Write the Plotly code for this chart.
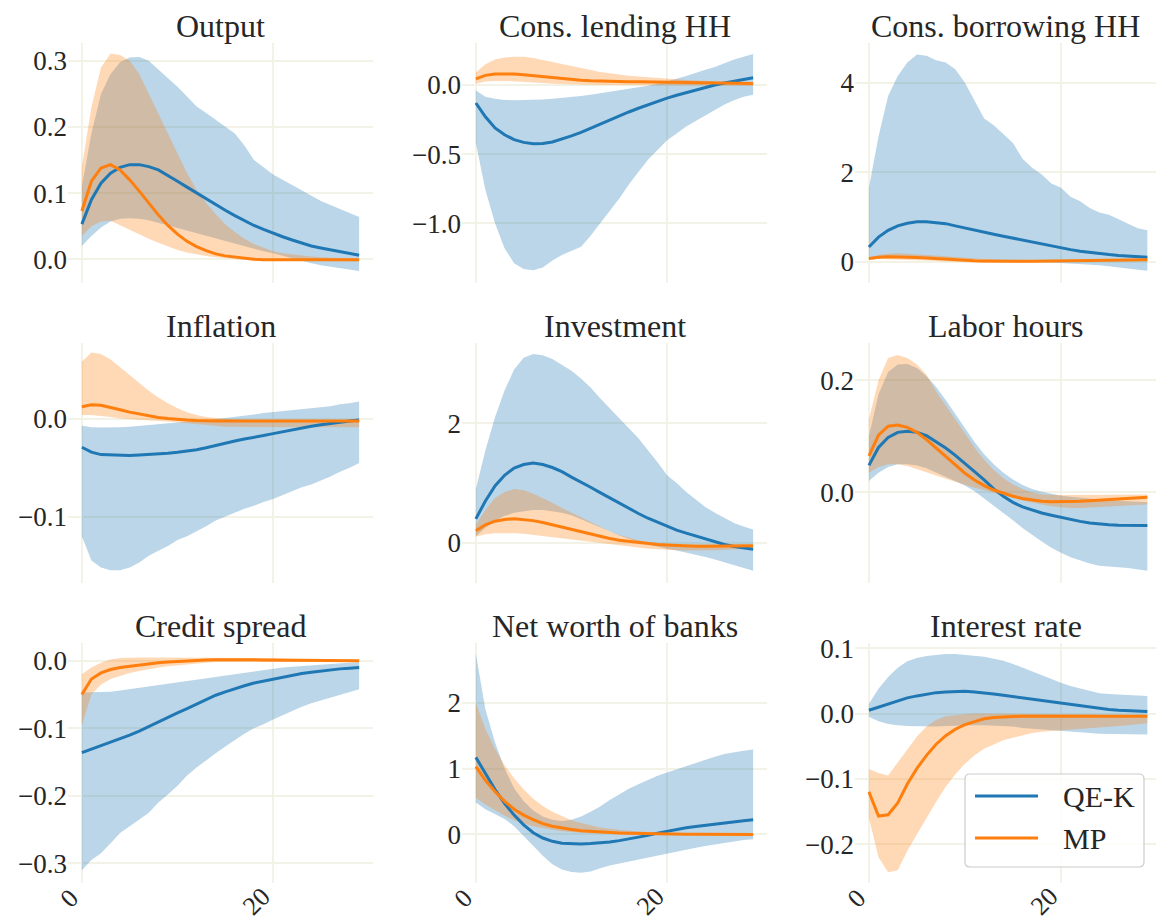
import plotly.graph_objects as go

t = list(range(30))

# ---------------- Output ----------------
output_qek = [0.053, 0.09, 0.115, 0.13, 0.139, 0.143, 0.143, 0.140, 0.135, 0.127, 0.118, 0.109, 0.100, 0.091, 0.082, 0.074, 0.066, 0.058, 0.051, 0.045, 0.039, 0.034, 0.029, 0.024, 0.020, 0.017, 0.014, 0.011, 0.008, 0.006]
output_qek_hi = [0.11, 0.19, 0.25, 0.28, 0.298, 0.305, 0.306, 0.300, 0.287, 0.274, 0.261, 0.246, 0.231, 0.221, 0.211, 0.200, 0.190, 0.172, 0.150, 0.139, 0.128, 0.120, 0.112, 0.103, 0.095, 0.088, 0.082, 0.076, 0.070, 0.064]
output_qek_lo = [0.02, 0.035, 0.048, 0.057, 0.061, 0.062, 0.061, 0.059, 0.056, 0.052, 0.048, 0.044, 0.040, 0.036, 0.032, 0.028, 0.024, 0.020, 0.016, 0.012, 0.009, 0.005, 0.002, -0.002, -0.006, -0.009, -0.012, -0.014, -0.016, -0.018]
output_mp = [0.073, 0.118, 0.138, 0.143, 0.135, 0.120, 0.103, 0.085, 0.067, 0.051, 0.038, 0.027, 0.019, 0.013, 0.008, 0.005, 0.003, 0.001, 0.0, -0.001, -0.001, -0.001, -0.001, -0.001, -0.001, -0.001, -0.001, -0.001, -0.001, -0.001]
output_mp_hi = [0.14, 0.23, 0.29, 0.311, 0.309, 0.30, 0.28, 0.25, 0.22, 0.19, 0.16, 0.13, 0.105, 0.085, 0.068, 0.053, 0.041, 0.031, 0.023, 0.017, 0.012, 0.009, 0.007, 0.005, 0.004, 0.003, 0.002, 0.002, 0.001, 0.001]
output_mp_lo = [0.035, 0.05, 0.057, 0.058, 0.052, 0.045, 0.038, 0.031, 0.025, 0.019, 0.014, 0.010, 0.007, 0.005, 0.003, 0.001, 0.0, -0.001, -0.002, -0.002, -0.003, -0.003, -0.003, -0.003, -0.003, -0.003, -0.003, -0.003, -0.003, -0.003]

# ---------------- Cons. lending HH ----------------
lend_qek = [-0.13, -0.23, -0.31, -0.36, -0.395, -0.415, -0.424, -0.423, -0.412, -0.392, -0.368, -0.342, -0.312, -0.282, -0.252, -0.222, -0.195, -0.168, -0.143, -0.118, -0.095, -0.074, -0.055, -0.037, -0.015, 0.0, 0.014, 0.027, 0.04, 0.052]
lend_qek_hi = [-0.04, -0.085, -0.1, -0.108, -0.11, -0.11, -0.108, -0.105, -0.1, -0.094, -0.087, -0.079, -0.07, -0.06, -0.05, -0.04, -0.03, -0.018, -0.005, 0.01, 0.025, 0.045, 0.065, 0.09, 0.11, 0.13, 0.16, 0.185, 0.205, 0.225]
lend_qek_lo = [-0.42, -0.76, -1.0, -1.18, -1.29, -1.33, -1.34, -1.32, -1.27, -1.23, -1.2, -1.17, -1.09, -1.0, -0.91, -0.82, -0.72, -0.63, -0.54, -0.47, -0.4, -0.35, -0.3, -0.26, -0.22, -0.18, -0.14, -0.11, -0.085, -0.07]
lend_mp = [0.045, 0.07, 0.08, 0.082, 0.08, 0.075, 0.068, 0.06, 0.053, 0.046, 0.04, 0.035, 0.031, 0.028, 0.026, 0.025, 0.024, 0.023, 0.022, 0.021, 0.02, 0.019, 0.018, 0.017, 0.016, 0.015, 0.014, 0.013, 0.012, 0.011]
lend_mp_hi = [0.09, 0.15, 0.185, 0.2, 0.205, 0.205, 0.195, 0.18, 0.165, 0.15, 0.135, 0.12, 0.105, 0.095, 0.085, 0.075, 0.068, 0.062, 0.056, 0.05, 0.045, 0.04, 0.036, 0.032, 0.028, 0.025, 0.022, 0.02, 0.018, 0.016]
lend_mp_lo = [0.01, 0.025, 0.03, 0.03, 0.028, 0.025, 0.02, 0.015, 0.01, 0.007, 0.005, 0.003, 0.002, 0.001, 0.0, 0.0, -0.001, -0.001, -0.002, -0.002, -0.002, -0.003, -0.003, -0.003, -0.004, -0.004, -0.004, -0.005, -0.005, -0.005]

# ---------------- Cons. borrowing HH ----------------
borrow_qek = [0.33, 0.55, 0.7, 0.8, 0.86, 0.89, 0.895, 0.88, 0.85, 0.8, 0.75, 0.71, 0.66, 0.615, 0.57, 0.525, 0.48, 0.435, 0.39, 0.345, 0.305, 0.27, 0.235, 0.205, 0.18, 0.16, 0.14, 0.125, 0.11, 0.1]
borrow_qek_hi = [1.65, 2.8, 3.7, 4.15, 4.45, 4.63, 4.6, 4.5, 4.45, 4.3, 4.0, 3.6, 3.2, 3.05, 2.85, 2.65, 2.3, 2.1, 1.95, 1.75, 1.65, 1.45, 1.35, 1.2, 1.1, 1.05, 0.95, 0.85, 0.75, 0.7]
borrow_qek_lo = [0.05, 0.1, 0.12, 0.13, 0.13, 0.12, 0.11, 0.1, 0.09, 0.08, 0.07, 0.06, 0.05, 0.04, 0.03, 0.02, 0.01, 0.0, -0.01, -0.02, -0.03, -0.04, -0.05, -0.065, -0.08, -0.1, -0.12, -0.15, -0.18, -0.2]
borrow_mp = [0.07, 0.1, 0.11, 0.11, 0.105, 0.095, 0.08, 0.065, 0.05, 0.04, 0.03, 0.02, 0.015, 0.01, 0.008, 0.007, 0.008, 0.01, 0.012, 0.015, 0.018, 0.022, 0.026, 0.03, 0.034, 0.037, 0.04, 0.042, 0.043, 0.044]
borrow_mp_hi = [0.09, 0.15, 0.18, 0.19, 0.18, 0.165, 0.145, 0.125, 0.105, 0.09, 0.075, 0.06, 0.05, 0.042, 0.036, 0.032, 0.03, 0.03, 0.031, 0.033, 0.036, 0.04, 0.044, 0.048, 0.052, 0.056, 0.06, 0.063, 0.066, 0.068]
borrow_mp_lo = [0.05, 0.06, 0.06, 0.055, 0.045, 0.035, 0.025, 0.015, 0.005, -0.005, -0.012, -0.018, -0.022, -0.024, -0.025, -0.024, -0.022, -0.018, -0.014, -0.01, -0.005, 0.0, 0.005, 0.01, 0.014, 0.017, 0.02, 0.022, 0.024, 0.025]

# ---------------- Inflation ----------------
infl_qek = [-0.029, -0.034, -0.0365, -0.037, -0.0375, -0.0375, -0.037, -0.0365, -0.036, -0.035, -0.034, -0.033, -0.0315, -0.0295, -0.027, -0.025, -0.0225, -0.0205, -0.019, -0.017, -0.015, -0.013, -0.011, -0.009, -0.0075, -0.006, -0.0045, -0.003, -0.002, -0.001]
infl_qek_hi = [-0.007, -0.0085, -0.0088, -0.0088, -0.0085, -0.008, -0.0072, -0.0064, -0.0056, -0.0048, -0.004, -0.003, -0.002, -0.001, 0.0, 0.001, 0.002, 0.003, 0.0045, 0.006, 0.007, 0.008, 0.009, 0.010, 0.011, 0.012, 0.013, 0.015, 0.016, 0.018]
infl_qek_lo = [-0.12, -0.145, -0.152, -0.155, -0.155, -0.152, -0.147, -0.14, -0.135, -0.13, -0.124, -0.12, -0.115, -0.11, -0.104, -0.1, -0.096, -0.092, -0.089, -0.085, -0.082, -0.078, -0.074, -0.07, -0.067, -0.063, -0.059, -0.054, -0.05, -0.045]
infl_mp = [0.0125, 0.0145, 0.014, 0.012, 0.0095, 0.007, 0.005, 0.003, 0.0015, 0.0005, -0.0005, -0.001, -0.0015, -0.002, -0.002, -0.002, -0.002, -0.002, -0.002, -0.002, -0.002, -0.002, -0.002, -0.002, -0.002, -0.002, -0.002, -0.002, -0.002, -0.002]
infl_mp_hi = [0.0585, 0.068, 0.0665, 0.061, 0.053, 0.045, 0.037, 0.029, 0.022, 0.016, 0.011, 0.007, 0.004, 0.002, 0.001, 0.0, -0.0005, -0.0007, -0.0008, -0.0009, -0.001, -0.001, -0.001, -0.001, -0.001, -0.001, -0.001, -0.001, -0.001, -0.001]
infl_mp_lo = [0.004, 0.004, 0.003, 0.002, 0.0005, -0.0005, -0.001, -0.0015, -0.002, -0.0025, -0.003, -0.004, -0.005, -0.006, -0.007, -0.008, -0.008, -0.0085, -0.0085, -0.0085, -0.0085, -0.0085, -0.0085, -0.0085, -0.0085, -0.0085, -0.0085, -0.0085, -0.0085, -0.0085]

# ---------------- Investment ----------------
inv_qek = [0.4, 0.7, 0.95, 1.13, 1.25, 1.31, 1.335, 1.31, 1.26, 1.19, 1.1, 1.02, 0.93, 0.84, 0.75, 0.66, 0.57, 0.49, 0.41, 0.34, 0.27, 0.21, 0.16, 0.11, 0.06, 0.01, -0.03, -0.065, -0.09, -0.11]
inv_qek_hi = [0.9, 1.55, 2.1, 2.55, 2.9, 3.1, 3.16, 3.14, 3.08, 2.98, 2.88, 2.75, 2.6, 2.42, 2.25, 2.08, 1.92, 1.75, 1.55, 1.35, 1.13, 1.0, 0.85, 0.72, 0.6, 0.5, 0.41, 0.33, 0.27, 0.22]
inv_qek_lo = [0.11, 0.25, 0.37, 0.45, 0.5, 0.53, 0.55, 0.55, 0.53, 0.5, 0.46, 0.4, 0.33, 0.26, 0.19, 0.12, 0.06, 0.01, -0.03, -0.07, -0.1, -0.13, -0.17, -0.2, -0.24, -0.28, -0.32, -0.37, -0.42, -0.47]
inv_mp = [0.2, 0.3, 0.36, 0.39, 0.4, 0.39, 0.37, 0.34, 0.3, 0.26, 0.22, 0.18, 0.14, 0.1, 0.07, 0.04, 0.02, 0.0, -0.02, -0.03, -0.04, -0.05, -0.055, -0.06, -0.06, -0.06, -0.06, -0.06, -0.055, -0.05]
inv_mp_hi = [0.3, 0.55, 0.75, 0.85, 0.9, 0.88, 0.82, 0.75, 0.67, 0.58, 0.5, 0.42, 0.34, 0.26, 0.19, 0.13, 0.08, 0.04, 0.01, -0.01, -0.02, -0.03, -0.03, -0.03, -0.03, -0.03, -0.03, -0.03, -0.03, -0.03]
inv_mp_lo = [0.1, 0.14, 0.16, 0.165, 0.16, 0.15, 0.135, 0.12, 0.1, 0.08, 0.06, 0.04, 0.02, 0.0, -0.02, -0.04, -0.06, -0.08, -0.1, -0.11, -0.12, -0.125, -0.13, -0.13, -0.13, -0.125, -0.12, -0.115, -0.11, -0.1]

# ---------------- Labor hours ----------------
labor_qek = [0.048, 0.08, 0.098, 0.107, 0.109, 0.107, 0.101, 0.09, 0.079, 0.066, 0.052, 0.037, 0.022, 0.006, -0.007, -0.018, -0.026, -0.032, -0.037, -0.041, -0.045, -0.049, -0.052, -0.055, -0.057, -0.058, -0.059, -0.0595, -0.0595, -0.0595]
labor_qek_hi = [0.1, 0.175, 0.215, 0.228, 0.229, 0.222, 0.207, 0.188, 0.165, 0.14, 0.115, 0.09, 0.068, 0.05, 0.035, 0.023, 0.013, 0.006, 0.001, -0.003, -0.006, -0.008, -0.01, -0.012, -0.013, -0.014, -0.015, -0.016, -0.017, -0.018]
labor_qek_lo = [0.02, 0.035, 0.045, 0.05, 0.05, 0.048, 0.043, 0.036, 0.028, 0.02, 0.012, 0.002, -0.01, -0.023, -0.037, -0.05, -0.064, -0.076, -0.088, -0.099, -0.108, -0.116, -0.122, -0.127, -0.131, -0.133, -0.134, -0.135, -0.137, -0.14]
labor_mp = [0.065, 0.102, 0.118, 0.12, 0.116, 0.107, 0.094, 0.079, 0.063, 0.048, 0.034, 0.022, 0.012, 0.004, -0.002, -0.007, -0.011, -0.014, -0.016, -0.017, -0.017, -0.017, -0.016, -0.015, -0.014, -0.013, -0.012, -0.011, -0.01, -0.009]
labor_mp_hi = [0.13, 0.2, 0.24, 0.245, 0.24, 0.228, 0.21, 0.18, 0.155, 0.13, 0.105, 0.08, 0.058, 0.04, 0.025, 0.014, 0.006, 0.0, -0.004, -0.005, -0.005, -0.005, -0.005, -0.005, -0.005, -0.005, -0.005, -0.004, -0.004, -0.004]
labor_mp_lo = [0.035, 0.045, 0.05, 0.05, 0.047, 0.042, 0.036, 0.03, 0.024, 0.018, 0.013, 0.008, 0.004, 0.0, -0.005, -0.01, -0.015, -0.019, -0.022, -0.025, -0.027, -0.028, -0.028, -0.028, -0.027, -0.026, -0.025, -0.024, -0.023, -0.022]

# ---------------- Credit spread ----------------
spread_qek = [-0.136, -0.131, -0.126, -0.121, -0.116, -0.11, -0.104, -0.097, -0.09, -0.084, -0.077, -0.071, -0.064, -0.057, -0.051, -0.046, -0.041, -0.037, -0.033, -0.03, -0.027, -0.024, -0.021, -0.019, -0.017, -0.015, -0.013, -0.012, -0.011, -0.01]
spread_qek_hi = [-0.047, -0.047, -0.047, -0.046, -0.044, -0.042, -0.04, -0.037, -0.035, -0.033, -0.031, -0.029, -0.027, -0.025, -0.023, -0.021, -0.019, -0.017, -0.015, -0.013, -0.011, -0.01, -0.009, -0.008, -0.007, -0.006, -0.005, -0.004, -0.003, -0.002]
spread_qek_lo = [-0.31, -0.295, -0.285, -0.27, -0.255, -0.245, -0.235, -0.225, -0.21, -0.198, -0.185, -0.17, -0.158, -0.147, -0.137, -0.127, -0.117, -0.108, -0.1, -0.094, -0.087, -0.08, -0.074, -0.068, -0.063, -0.058, -0.054, -0.05, -0.046, -0.042]
spread_mp = [-0.05, -0.027, -0.018, -0.013, -0.01, -0.008, -0.006, -0.0045, -0.003, -0.002, -0.001, 0.0, 0.0008, 0.0012, 0.0015, 0.0017, 0.0017, 0.0016, 0.0015, 0.0013, 0.0012, 0.001, 0.0008, 0.0006, 0.0004, 0.0003, 0.0002, 0.0001, 0.0, 0.0]
spread_mp_hi = [-0.02, -0.01, -0.003, 0.002, 0.004, 0.005, 0.005, 0.005, 0.005, 0.005, 0.005, 0.005, 0.005, 0.005, 0.005, 0.005, 0.005, 0.005, 0.0045, 0.004, 0.004, 0.0035, 0.003, 0.0025, 0.002, 0.002, 0.0015, 0.0015, 0.001, 0.001]
spread_mp_lo = [-0.095, -0.05, -0.035, -0.027, -0.022, -0.018, -0.015, -0.012, -0.01, -0.008, -0.006, -0.005, -0.004, -0.003, -0.002, -0.002, -0.001, -0.001, -0.001, -0.001, -0.001, -0.001, -0.001, -0.001, -0.001, -0.001, -0.001, -0.001, -0.001, -0.001]

# ---------------- Net worth of banks ----------------
nw_qek = [1.17, 0.92, 0.68, 0.47, 0.29, 0.14, 0.02, -0.06, -0.11, -0.14, -0.15, -0.15, -0.145, -0.135, -0.12, -0.1, -0.075, -0.05, -0.02, 0.015, 0.045, 0.07, 0.095, 0.115, 0.135, 0.155, 0.175, 0.19, 0.205, 0.22]
nw_qek_hi = [2.75, 1.9, 1.4, 1.0, 0.7, 0.5, 0.36, 0.27, 0.22, 0.2, 0.22, 0.27, 0.34, 0.42, 0.52, 0.61, 0.69, 0.76, 0.83, 0.89, 0.94, 0.99, 1.04, 1.09, 1.14, 1.18, 1.22, 1.25, 1.27, 1.29]
nw_qek_lo = [0.48, 0.38, 0.3, 0.23, 0.12, -0.02, -0.18, -0.33, -0.46, -0.54, -0.58, -0.59, -0.57, -0.52, -0.48, -0.45, -0.42, -0.38, -0.35, -0.32, -0.3, -0.27, -0.24, -0.21, -0.18, -0.16, -0.13, -0.11, -0.09, -0.08]
nw_mp = [1.03, 0.82, 0.65, 0.5, 0.38, 0.29, 0.22, 0.16, 0.12, 0.09, 0.07, 0.05, 0.04, 0.03, 0.022, 0.016, 0.012, 0.008, 0.005, 0.003, 0.001, 0.0, -0.002, -0.003, -0.004, -0.005, -0.006, -0.007, -0.008, -0.008]
nw_mp_hi = [2.0, 1.6, 1.3, 1.05, 0.85, 0.68, 0.54, 0.43, 0.34, 0.27, 0.21, 0.17, 0.13, 0.1, 0.08, 0.06, 0.05, 0.04, 0.03, 0.025, 0.02, 0.018, 0.016, 0.014, 0.013, 0.012, 0.011, 0.01, 0.01, 0.01]
nw_mp_lo = [0.55, 0.45, 0.36, 0.28, 0.21, 0.16, 0.12, 0.09, 0.065, 0.045, 0.03, 0.02, 0.012, 0.006, 0.002, -0.002, -0.005, -0.007, -0.009, -0.01, -0.012, -0.013, -0.014, -0.015, -0.016, -0.017, -0.018, -0.019, -0.02, -0.02]

# ---------------- Interest rate ----------------
rate_qek = [0.005, 0.01, 0.015, 0.02, 0.024, 0.027, 0.03, 0.032, 0.033, 0.034, 0.034, 0.033, 0.032, 0.03, 0.028, 0.026, 0.024, 0.021, 0.019, 0.017, 0.015, 0.013, 0.011, 0.009, 0.007, 0.006, 0.005, 0.004, 0.003, 0.003]
rate_qek_hi = [0.015, 0.038, 0.056, 0.07, 0.08, 0.085, 0.088, 0.09, 0.091, 0.091, 0.09, 0.089, 0.087, 0.084, 0.081, 0.076, 0.07, 0.064, 0.058, 0.052, 0.047, 0.042, 0.038, 0.034, 0.031, 0.03, 0.029, 0.028, 0.027, 0.027]
rate_qek_lo = [-0.005, -0.012, -0.016, -0.018, -0.019, -0.02, -0.02, -0.02, -0.019, -0.019, -0.018, -0.018, -0.018, -0.018, -0.019, -0.02, -0.022, -0.024, -0.025, -0.026, -0.027, -0.028, -0.029, -0.03, -0.031, -0.031, -0.032, -0.032, -0.032, -0.032]
rate_mp = [-0.12, -0.157, -0.155, -0.137, -0.108, -0.084, -0.064, -0.047, -0.034, -0.024, -0.017, -0.012, -0.008, -0.006, -0.005, -0.004, -0.004, -0.004, -0.004, -0.004, -0.004, -0.004, -0.004, -0.004, -0.004, -0.004, -0.004, -0.004, -0.004, -0.004]
rate_mp_hi = [-0.085, -0.091, -0.095, -0.075, -0.055, -0.035, -0.02, -0.01, -0.004, -0.002, -0.001, 0.0, 0.0, 0.0, 0.0, 0.0, 0.0, -0.001, -0.001, -0.001, -0.001, -0.001, -0.001, -0.001, -0.002, -0.002, -0.002, -0.002, -0.002, -0.002]
rate_mp_lo = [-0.16, -0.22, -0.243, -0.24, -0.21, -0.185, -0.16, -0.135, -0.112, -0.093, -0.077, -0.064, -0.054, -0.047, -0.041, -0.037, -0.033, -0.03, -0.028, -0.026, -0.025, -0.024, -0.023, -0.022, -0.021, -0.02, -0.019, -0.018, -0.017, -0.015]

titles = ["Output", "Cons. lending HH", "Cons. borrowing HH",
          "Inflation", "Investment", "Labor hours",
          "Credit spread", "Net worth of banks", "Interest rate"]
series_names = ["QE-K", "MP"]
x_tick_values = [0, 20]
x_tick_labels = ["0", "20"]
y_tick_values = [[0.0, 0.1, 0.2, 0.3], [-1.0, -0.5, 0.0], [0, 2, 4],
                 [-0.1, 0.0], [0, 2], [0.0, 0.2],
                 [-0.3, -0.2, -0.1, 0.0], [0, 1, 2], [-0.2, -0.1, 0.0, 0.1]]

panels = [
    (output_qek, output_qek_lo, output_qek_hi, output_mp, output_mp_lo, output_mp_hi),
    (lend_qek, lend_qek_lo, lend_qek_hi, lend_mp, lend_mp_lo, lend_mp_hi),
    (borrow_qek, borrow_qek_lo, borrow_qek_hi, borrow_mp, borrow_mp_lo, borrow_mp_hi),
    (infl_qek, infl_qek_lo, infl_qek_hi, infl_mp, infl_mp_lo, infl_mp_hi),
    (inv_qek, inv_qek_lo, inv_qek_hi, inv_mp, inv_mp_lo, inv_mp_hi),
    (labor_qek, labor_qek_lo, labor_qek_hi, labor_mp, labor_mp_lo, labor_mp_hi),
    (spread_qek, spread_qek_lo, spread_qek_hi, spread_mp, spread_mp_lo, spread_mp_hi),
    (nw_qek, nw_qek_lo, nw_qek_hi, nw_mp, nw_mp_lo, nw_mp_hi),
    (rate_qek, rate_qek_lo, rate_qek_hi, rate_mp, rate_mp_lo, rate_mp_hi),
]

# ---------------- layout config ----------------
W, H = 1156, 920
col_px = [(68, 373), (462, 767), (855, 1156)]
row_px = [(43, 283), (343, 583), (643, 883)]
x_ranges = [[-1.45, 30.45], [-1.45, 30.45], [-1.45, 29.9]]
y_ranges = [[-0.036, 0.327], [-1.432, 0.304], [-0.476, 4.887],
            [-0.168, 0.0778], [-0.675, 3.346], [-0.162, 0.2666],
            [-0.329, 0.0263], [-0.746, 2.914], [-0.2595, 0.108]]
y_formats = [".1f", ".1f", "d", ".1f", "d", ".1f", ".1f", "d", ".1f"]

BLUE = "#1f77b4"
ORANGE = "#ff7f0e"
BLUE_FILL = "rgba(31,119,180,0.3)"
ORANGE_FILL = "rgba(255,127,14,0.3)"
GRID = "rgb(242,242,230)"
TEXT = "#262626"
FONT = "Liberation Serif"


def px(x, y):
    """pixel position -> paper coordinates"""
    return x / W, 1 - y / H


fig = go.Figure()
annotations = []
shapes = []
layout = dict(
    width=W, height=H,
    margin=dict(l=0, r=0, t=0, b=0),
    paper_bgcolor="white", plot_bgcolor="white",
    font=dict(family=FONT, color=TEXT, size=27),
    showlegend=False,
)

for i, (qek, qek_lo, qek_hi, mp, mp_lo, mp_hi) in enumerate(panels):
    r, c = divmod(i, 3)
    n = i + 1
    xa = "x" if n == 1 else f"x{n}"
    ya = "y" if n == 1 else f"y{n}"
    x0, x1 = col_px[c]
    y0, y1 = row_px[r]
    xdom = [x0 / W, x1 / W]
    ydom = [1 - y1 / H, 1 - y0 / H]
    # confidence bands
    fig.add_trace(go.Scatter(x=t + t[::-1], y=qek_hi + qek_lo[::-1], fill="toself",
                             fillcolor=BLUE_FILL, line=dict(width=0), mode="lines",
                             hoverinfo="skip", xaxis=xa, yaxis=ya))
    fig.add_trace(go.Scatter(x=t + t[::-1], y=mp_hi + mp_lo[::-1], fill="toself",
                             fillcolor=ORANGE_FILL, line=dict(width=0), mode="lines",
                             hoverinfo="skip", xaxis=xa, yaxis=ya))
    # median responses
    fig.add_trace(go.Scatter(x=t, y=qek, mode="lines", line=dict(color=BLUE, width=3),
                             name=series_names[0], xaxis=xa, yaxis=ya))
    fig.add_trace(go.Scatter(x=t, y=mp, mode="lines", line=dict(color=ORANGE, width=3),
                             name=series_names[1], xaxis=xa, yaxis=ya))

    xkey = "xaxis" if n == 1 else f"xaxis{n}"
    ykey = "yaxis" if n == 1 else f"yaxis{n}"
    layout[xkey] = dict(domain=xdom, anchor=ya, range=x_ranges[c],
                        tickvals=x_tick_values, ticktext=x_tick_labels,
                        showticklabels=False,
                        showgrid=True, gridcolor=GRID, gridwidth=1.5,
                        zeroline=False, showline=False, ticks="",
                        automargin=False, fixedrange=True)
    layout[ykey] = dict(domain=ydom, anchor=xa, range=y_ranges[i],
                        tickvals=y_tick_values[i], tickformat=y_formats[i],
                        showgrid=True, gridcolor=GRID, gridwidth=1.5,
                        zeroline=False, showline=False, ticks="",
                        tickfont=dict(size=27, family=FONT, color=TEXT),
                        automargin=False, fixedrange=True)
    annotations.append(dict(
        text=titles[i], xref="paper", yref="paper",
        x=(xdom[0] + xdom[1]) / 2, y=ydom[1], xanchor="center", yanchor="bottom",
        yshift=-3, showarrow=False, font=dict(family=FONT, size=32, color=TEXT)))
    # rotated x tick labels (bottom row), ending at the tick like matplotlib's ha='right'
    if r == 2:
        for v, lab in zip(x_tick_values, x_tick_labels):
            annotations.append(dict(
                text=lab, xref=xa, yref="paper", x=v, y=ydom[0],
                xanchor="center", yanchor="middle", textangle=-45,
                xshift=-8 - 4.5 * len(lab), yshift=-13 - 2.5 * len(lab),
                showarrow=False, font=dict(family=FONT, size=26, color=TEXT)))

# ---------------- legend (drawn in the Interest rate panel) ----------------
lx0, ly0, lx1, ly1, rad = 965, 774, 1144, 867, 5
a0, b0 = px(lx0, ly0)
a1, b1 = px(lx1, ly1)
rx, ry = rad / W, rad / H
legend_path = (f"M{a0 + rx},{b0} L{a1 - rx},{b0} Q{a1},{b0} {a1},{b0 - ry} "
               f"L{a1},{b1 + ry} Q{a1},{b1} {a1 - rx},{b1} L{a0 + rx},{b1} "
               f"Q{a0},{b1} {a0},{b1 + ry} L{a0},{b0 - ry} Q{a0},{b0} {a0 + rx},{b0} Z")
shapes.append(dict(type="path", path=legend_path, xref="paper", yref="paper",
                   fillcolor="rgba(255,255,255,0.8)", line=dict(color="#cccccc", width=1.2),
                   layer="above"))
for k, (name, col) in enumerate(zip(series_names, [BLUE, ORANGE])):
    yy = 796 + 42 * k
    sx0, sy = px(975, yy)
    sx1, _ = px(1038, yy)
    shapes.append(dict(type="line", xref="paper", yref="paper", x0=sx0, x1=sx1, y0=sy, y1=sy,
                       line=dict(color=col, width=3), layer="above"))
    tx, _ = px(1061, yy)
    annotations.append(dict(text=name, xref="paper", yref="paper", x=tx, y=sy,
                            xanchor="left", yanchor="middle", showarrow=False,
                            font=dict(family=FONT, size=30, color=TEXT)))

layout["annotations"] = annotations
layout["shapes"] = shapes
fig.update_layout(**layout)
fig.write_html("out.html",
               config={"displayModeBar": False},
               post_script="document.body.style.margin='0';document.body.style.overflow='hidden';")
